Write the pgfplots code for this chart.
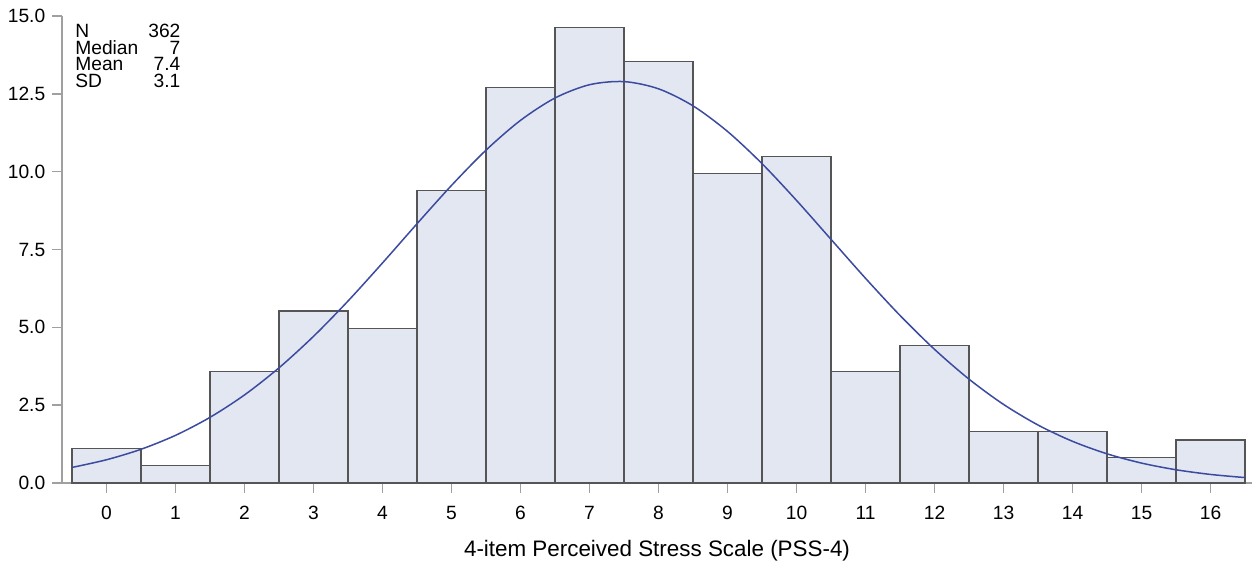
\documentclass[border=0pt]{standalone}
\usepackage{fontspec}
\setmainfont{Liberation Sans}
\usepackage{pgfplots}
\pgfplotsset{compat=1.18}
\definecolor{barfill}{HTML}{E3E7F1}
\definecolor{baredge}{HTML}{555555}
\definecolor{spine}{HTML}{A0A0A0}
\definecolor{curve}{HTML}{3B4B9F}

\begin{document}
\begin{tikzpicture}
  \fontsize{9.6}{8.25}\selectfont
  \path[use as bounding box] (-31pt,-40pt) rectangle (597.5pt,241.5pt);
  \begin{axis}[
    at={(0,0)}, anchor=south west,
    scale only axis,
    width=595pt, height=233.5pt,
    xmin=-0.645, xmax=16.6,
    ymin=0, ymax=15,
    axis x line*=bottom, axis y line*=left,
    axis line style={spine, line width=0.75pt},
    tick style={spine, line width=0.75pt},
    tick align=outside,
    major tick length=5pt,
    xtick={0,1,...,16},
    ytick={0,2.5,5,7.5,10,12.5,15},
    /pgf/number format/assume math mode=true,
    yticklabel style={/pgf/number format/fixed, /pgf/number format/fixed zerofill, /pgf/number format/precision=1, font=\fontsize{9.6}{10}\selectfont},
    xticklabel style={font=\fontsize{9.6}{10}\selectfont, yshift=-3pt},
    xlabel={4-item Perceived Stress Scale (PSS-4)},
    xlabel style={font=\fontsize{11.2}{12}\selectfont, at={(axis description cs:0.5,0)}, anchor=base, yshift=-36.5pt},
    clip=false,
  ]
  \addplot[ybar, bar width=1, fill=barfill, draw=baredge, line width=0.65pt] coordinates {
    (0,1.105) (1,0.552) (2,3.591) (3,5.525) (4,4.972) (5,9.392) (6,12.707)
    (7,14.641) (8,13.536) (9,9.945) (10,10.497) (11,3.591) (12,4.420)
    (13,1.657) (14,1.657) (15,0.829) (16,1.381)
  };
  \addplot[curve, line width=0.75pt, smooth, mark=none] coordinates {
    (-0.5,0.50) (0,0.747) (0.5,1.083) (1,1.531) (1.5,2.109) (2,2.829)
    (2.5,3.700) (3,4.711) (3.5,5.846) (4,7.069) (4.5,8.328) (5,9.559)
    (5.5,10.692) (6,11.649) (6.5,12.367) (7,12.793) (7.5,12.893)
    (8,12.661) (8.5,12.113) (9,11.291) (9.5,10.256) (10,9.075) (10.5,7.824)
    (11,6.573) (11.5,5.380) (12,4.291) (12.5,3.334) (13,2.523) (13.5,1.861)
    (14,1.338) (14.5,0.937) (15,0.639) (15.5,0.425) (16,0.275) (16.5,0.174)
  };
  \node[anchor=base west, inner sep=0pt, font=\fontsize{9.6}{8.3}\selectfont]
    at (rel axis cs:0.0109,0.954) {%
    \vtop{\baselineskip=8.3pt\lineskiplimit=-20pt
      \hbox{\makebox[52.5pt]{N\hfill 362}}
      \hbox{\makebox[52.5pt]{Median\hfill 7}}
      \hbox{\makebox[52.5pt]{Mean\hfill 7.4}}
      \hbox{\makebox[52.5pt]{SD\hfill 3.1}}}};
  \end{axis}
\end{tikzpicture}
\end{document}
